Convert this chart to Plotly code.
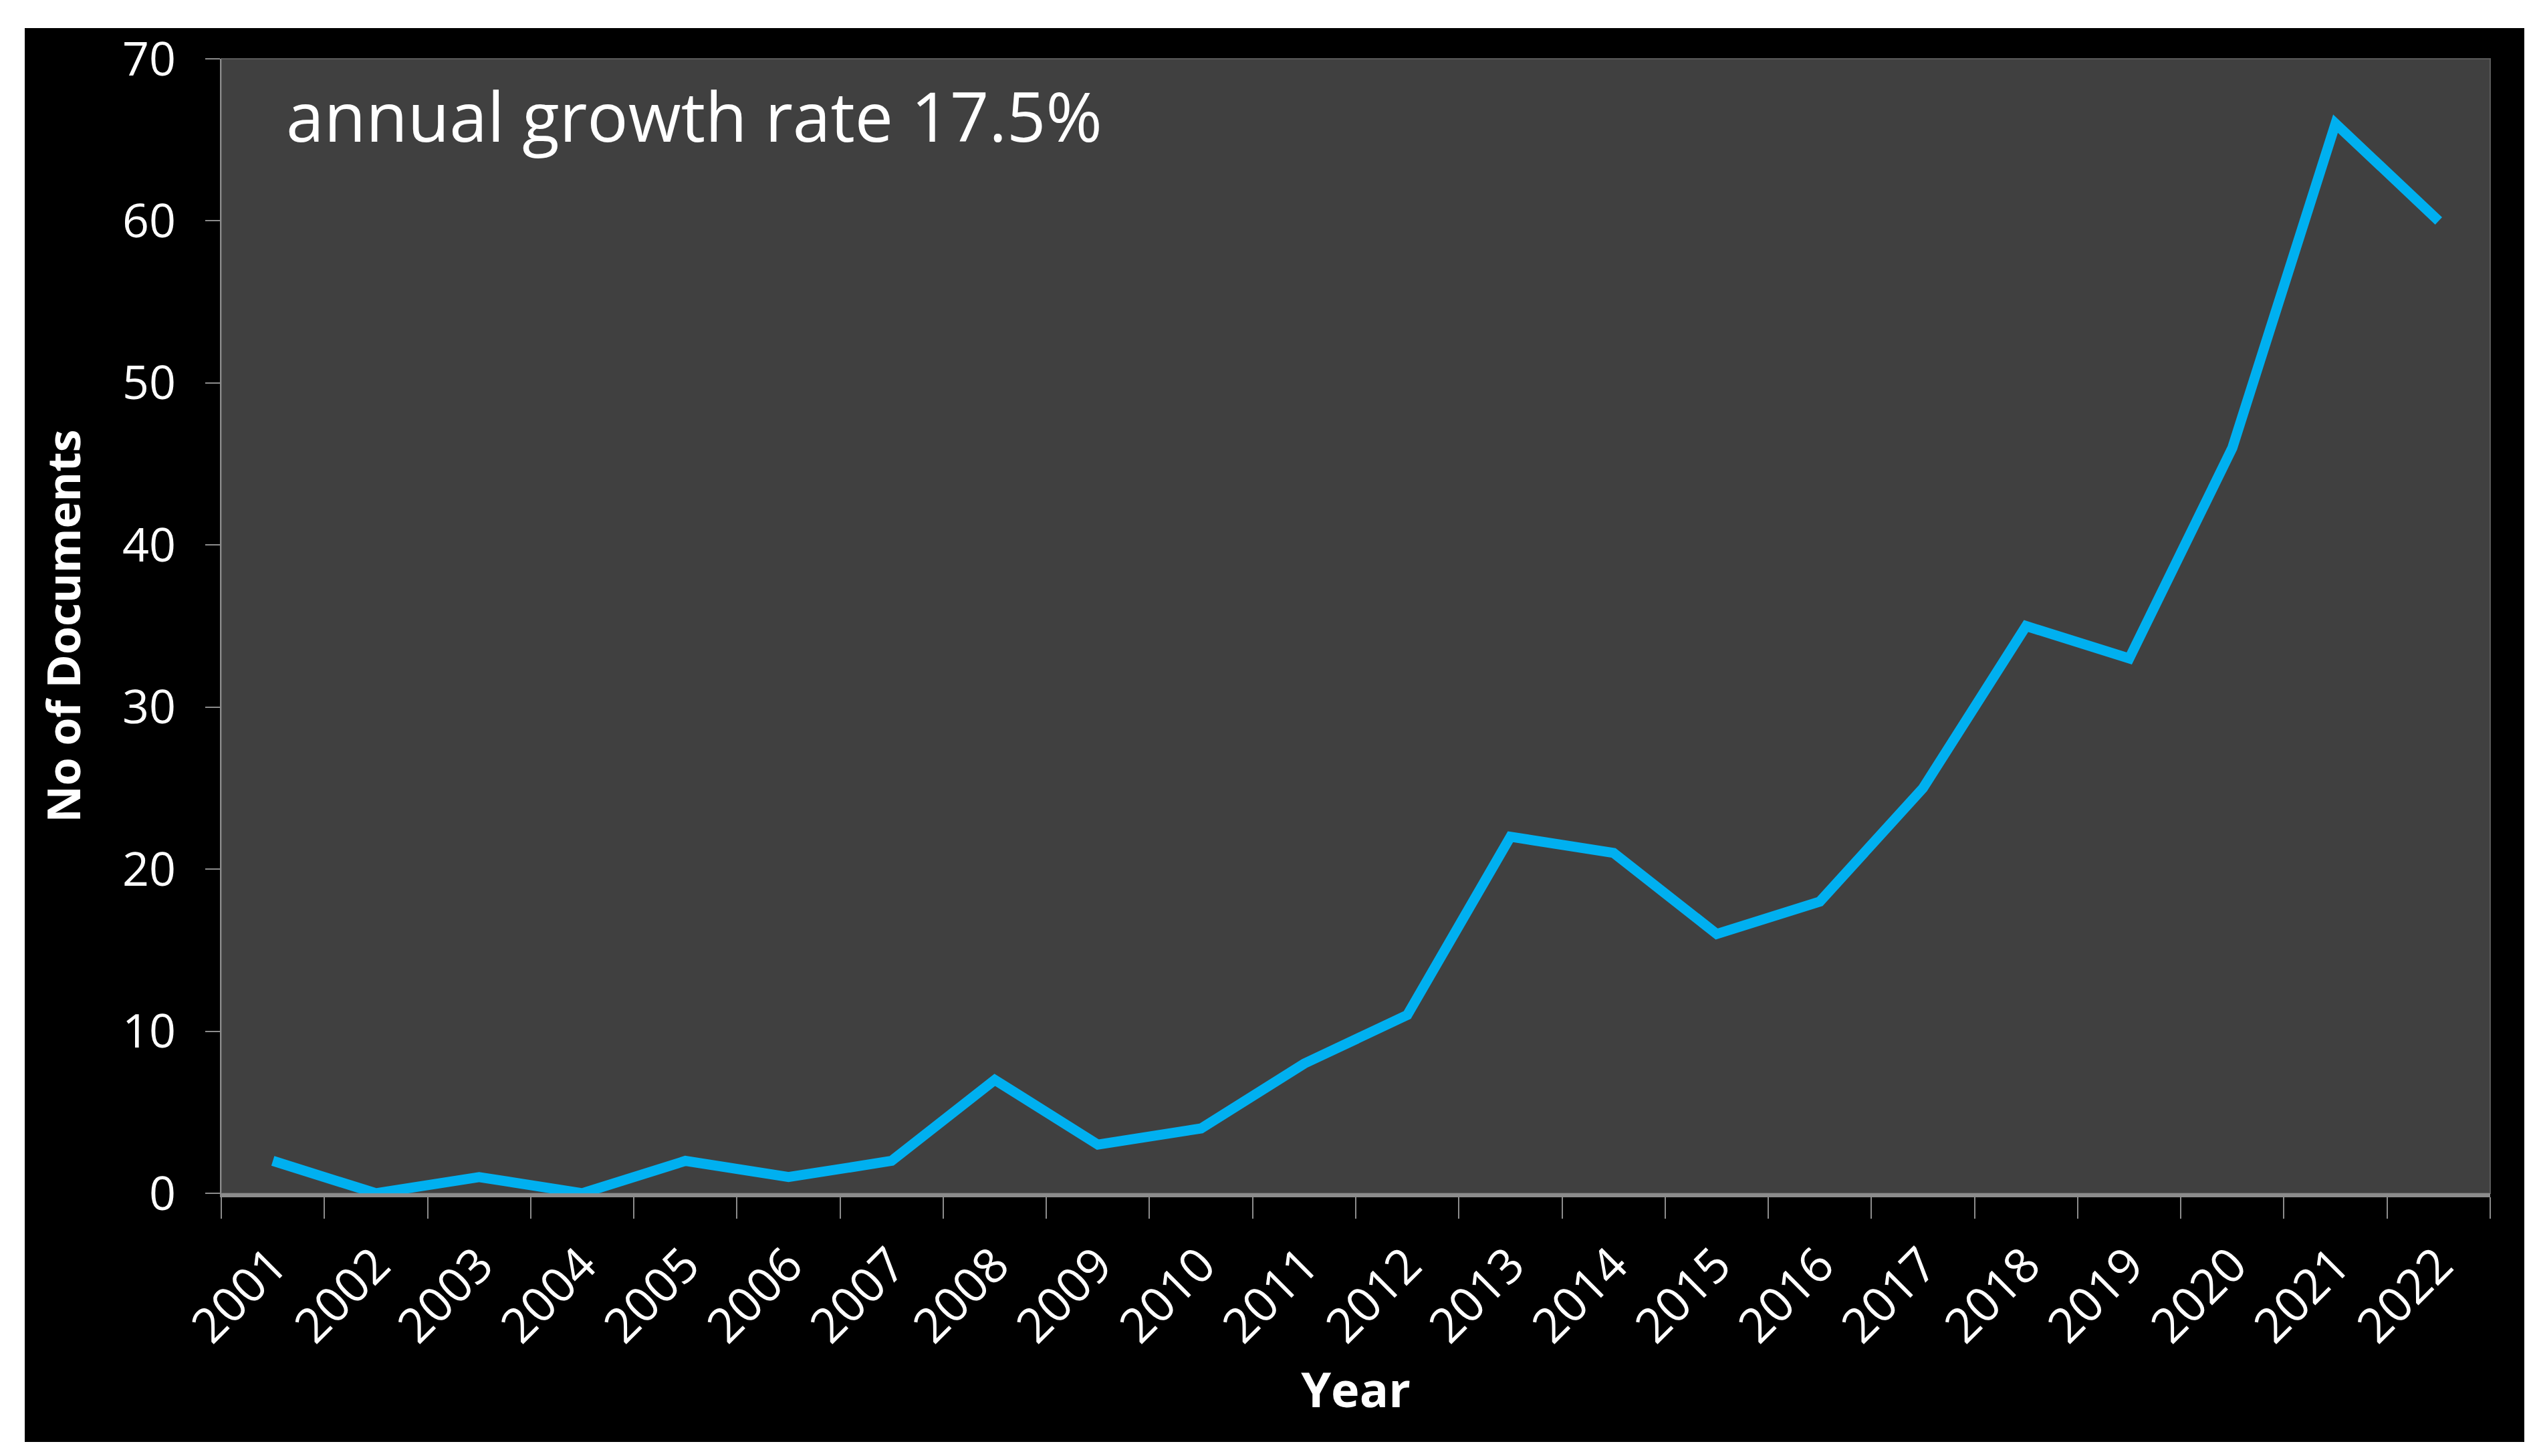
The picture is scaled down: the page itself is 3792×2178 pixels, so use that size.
import plotly.graph_objects as go

years = ["2001", "2002", "2003", "2004", "2005", "2006", "2007", "2008", "2009", "2010", "2011",
         "2012", "2013", "2014", "2015", "2016", "2017", "2018", "2019", "2020", "2021", "2022"]
documents = [2, 0, 1, 0, 2, 1, 2, 7, 3, 4, 8, 11, 22, 21, 16, 18, 25, 35, 33, 46, 66, 60]
y_ticks = [0, 10, 20, 30, 40, 50, 60, 70]

W, H = 3792, 2178
L, R, T, B = 323, 75, 80, 401
pw, ph = W - L - R, H - T - B

fig = go.Figure()
fig.add_trace(go.Scatter(
    x=years, y=documents, mode="lines",
    line=dict(color="#00B0F0", width=15),
    showlegend=False, hoverinfo="skip", cliponaxis=False,
))

# black panel with white border, and plot-area background
fig.add_shape(type="rect", xref="paper", yref="paper", layer="below",
              x0=(29 - L) / pw, x1=(3768 - L) / pw,
              y0=(H - B - (H - 29)) / ph, y1=(H - B - 34) / ph,
              fillcolor="black", line=dict(width=0))
fig.add_shape(type="rect", xref="paper", yref="paper", layer="below",
              x0=0, x1=1, y0=0, y1=1,
              fillcolor="#404040", line=dict(color="#5a5a5a", width=2))

fig.add_annotation(text="annual growth rate 17.5%", xref="paper", yref="paper",
                   x=(418 - L) / pw, y=0.95, xanchor="left", yanchor="middle",
                   showarrow=False, font=dict(family="Open Sans", size=102, color="white"))

fig.update_layout(
    width=W, height=H,
    margin=dict(l=L, r=R, t=T, b=B, autoexpand=False),
    paper_bgcolor="white", plot_bgcolor="rgba(0,0,0,0)",
    font=dict(family="Open Sans", color="white"),
)
fig.update_xaxes(
    type="category", range=[-0.5, len(years) - 0.5],
    tickson="boundaries", ticks="outside", ticklen=32, tickwidth=2, tickcolor="#8c8c8c",
    showline=True, linecolor="#8c8c8c", linewidth=6,
    showgrid=False, zeroline=False,
    tickangle=-45, tickfont=dict(family="Open Sans", size=72, color="white"),
    ticklabelstandoff=30,
    title=dict(text="<b>Year</b>", font=dict(family="Open Sans", size=72, color="white"), standoff=5),
    automargin=False,
)
fig.update_yaxes(
    range=[0, 70], tickvals=y_ticks, ticktext=[str(v) for v in y_ticks],
    ticks="outside", ticklen=22, tickwidth=2, tickcolor="#8c8c8c",
    showline=True, linecolor="#8c8c8c", linewidth=2,
    showgrid=False, zeroline=False,
    tickfont=dict(family="Open Sans", size=70, color="white"),
    ticklabelstandoff=30,
    title=dict(text="<b>No of Documents</b>", font=dict(family="Open Sans", size=68, color="white"), standoff=40),
    automargin=False,
)

fig.write_html("out.html")
